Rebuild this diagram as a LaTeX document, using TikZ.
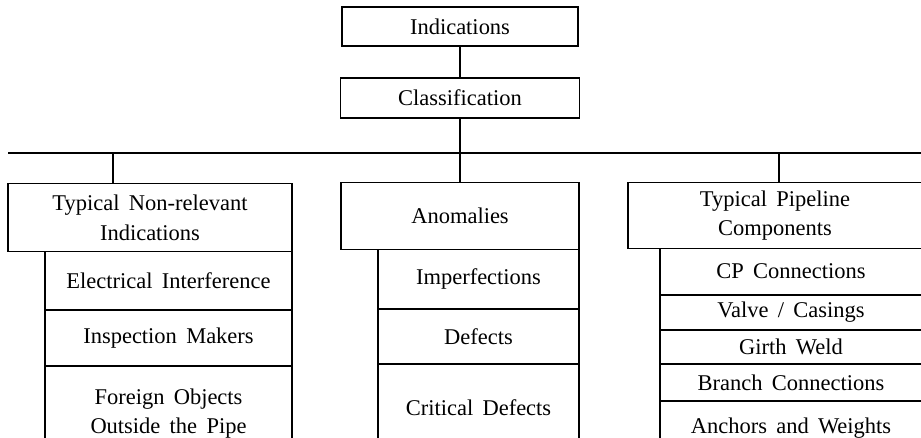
\documentclass[tikz,border=0pt]{standalone}
\usepackage{fontspec}
\setmainfont{Liberation Serif}[WordSpace=1.65]
\usetikzlibrary{positioning}

\begin{document}
\begin{tikzpicture}[
		box/.style={draw, line width=0.6pt, inner sep=0pt, align=center, font=\fontsize{12.8}{17}\selectfont},
		lsub/.style={box, minimum width=4.94cm},
		msub/.style={box, minimum width=4.02cm},
		rsub/.style={box, minimum width=5.24cm},
		node distance=0pt
	]
		%%%%% START %%%%%
		
		\useasboundingbox (0, 0) rectangle (18.42, -8.74);
		\clip (0, 0) rectangle (18.42, -8.74);
		
		\node[box, minimum width=4.72cm, minimum height=0.78cm] (ind) at (9.2, -0.53) {Indications};
		\node[box, minimum width=4.78cm, minimum height=0.8cm] (cls) at (9.2, -1.96) {Classification};
		\draw[line width=0.6pt] (ind) -- (cls);
		
		\coordinate (barL) at (0.16, -3.06);
		\coordinate (barR) at (18.42, -3.06);
		\coordinate (dropL) at (2.26, -3.06);
		\coordinate (dropR) at (15.58, -3.06);
		\draw[line width=0.6pt] (barL) -- (barR);
		
		\node[box, anchor=north, minimum width=5.68cm, minimum height=1.36cm] (tnr) at (3.0, -3.66) {Typical Non-relevant\\Indications};
		\node[box, anchor=north, minimum width=4.76cm, minimum height=1.34cm] (anom) at (9.2, -3.64) {Anomalies};
		\node[box, anchor=north, minimum width=5.88cm, minimum height=1.32cm] (tpc) at (15.5, -3.64) {Typical Pipeline\\Components};
		
		\draw[line width=0.6pt] (dropL) -- (dropL |- tnr.north);
		\draw[line width=0.6pt] (cls) -- (anom);
		\draw[line width=0.6pt] (dropR) -- (dropR |- tpc.north);
		
		\node[lsub, anchor=north, minimum height=1.16cm] (elec) at (3.37, -5.02) {Electrical Interference};
		\node[lsub, below=of elec, minimum height=1.1cm] (insp) {Inspection Makers};
		\node[lsub, below=of insp, minimum height=1.88cm] (forg) {Foreign Objects\\Outside the Pipe};
		
		\node[msub, anchor=north, minimum height=1.18cm] (impf) at (9.57, -4.98) {Imperfections};
		\node[msub, below=of impf, minimum height=1.08cm] (dfct) {Defects};
		\node[msub, below=of dfct, minimum height=1.72cm] (crit) {Critical Defects};
		
		\node[rsub, anchor=north, minimum height=0.92cm] (cpc) at (15.82, -4.96) {CP Connections};
		\node[rsub, below=of cpc, minimum height=0.68cm] (valv) {Valve / Casings};
		\node[rsub, below=of valv, minimum height=0.66cm] (girth) {Girth Weld};
		\node[rsub, below=of girth, minimum height=0.72cm] (brch) {Branch Connections};
		\node[rsub, below=of brch, minimum height=1.06cm] (anch) {Anchors and Weights};
		
		%%%%% END %%%%%
	\end{tikzpicture}
\end{document}
